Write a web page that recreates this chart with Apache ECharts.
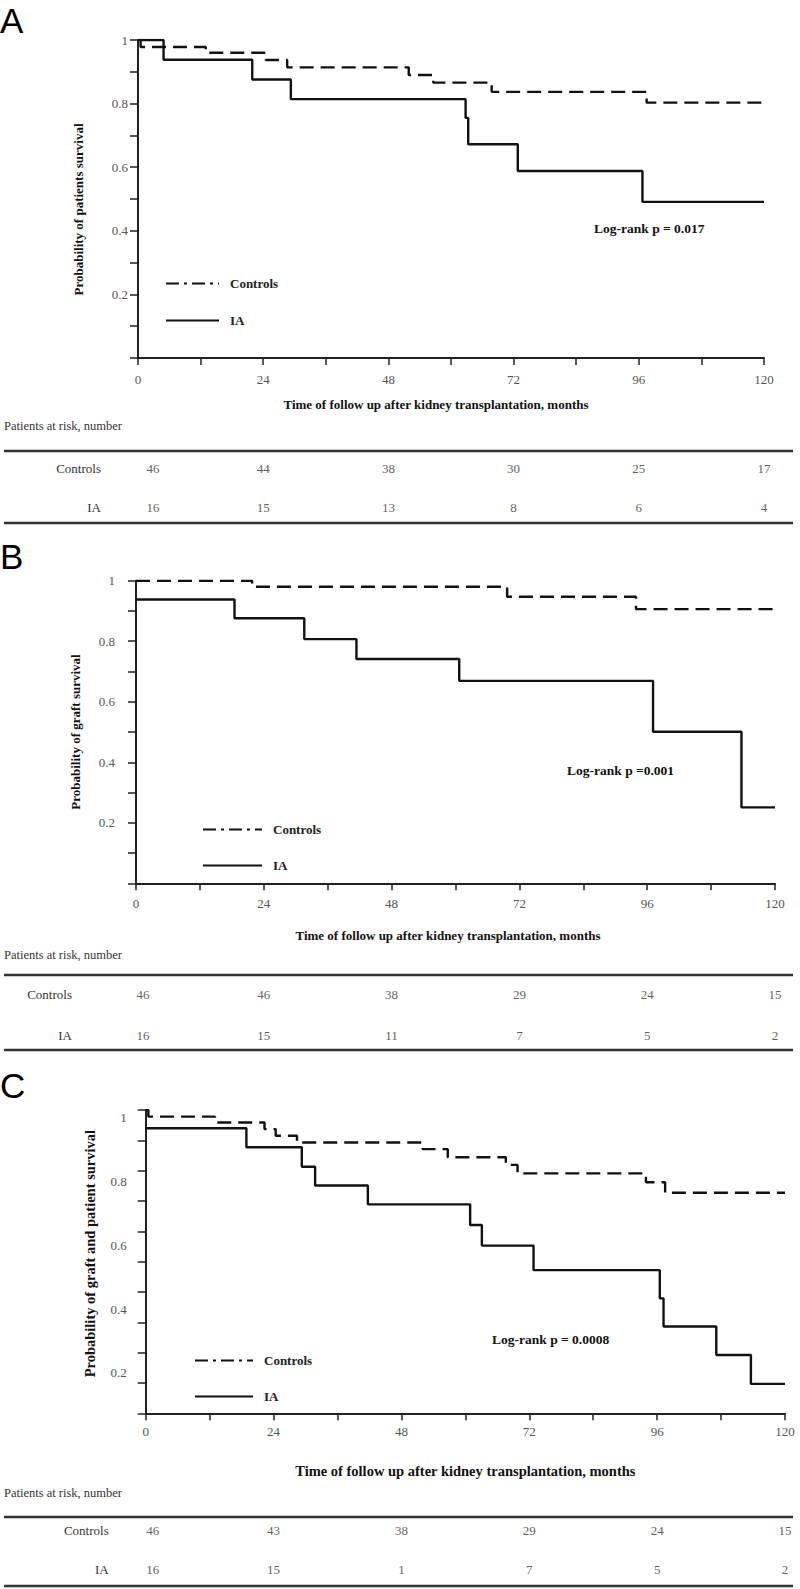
<!DOCTYPE html>
<html><head><meta charset="utf-8">
<script src="https://cdn.jsdelivr.net/npm/echarts@6/dist/echarts.min.js"></script>
<style>html,body{margin:0;padding:0;background:#fff}#c{width:800px;height:1589px}</style>
</head><body><div id="c"></div>
<script>
// ===================== DATA =====================
const xTickMonths = [0, 24, 48, 72, 96, 120];
const yLabelValues = [0.2, 0.4, 0.6, 0.8, 1];
const riskRowNames = ['Controls', 'IA'];
const seriesNames = ['Controls', 'IA'];

// Panel A: patient survival
const ctrlA_t = [0, 0.5, 13, 24.5, 28.6, 51.9, 56.6, 67.8, 97.5, 120];
const ctrlA_s = [1, 0.978, 0.960, 0.937, 0.914, 0.890, 0.866, 0.837, 0.803, 0.803];
const iaA_t = [0, 4.9, 21.9, 29.3, 62.8, 63.3, 72.8, 96.7, 120];
const iaA_s = [1, 0.938, 0.876, 0.814, 0.755, 0.672, 0.588, 0.491, 0.491];
const riskA_ctrl = [46, 44, 38, 30, 25, 17];
const riskA_ia = [16, 15, 13, 8, 6, 4];

// Panel B: graft survival
const ctrlB_t = [0, 21.8, 69.7, 93.9, 120];
const ctrlB_s = [1, 0.980, 0.947, 0.906, 0.906];
const iaB_t = [0, 18.5, 31.6, 41.4, 60.7, 97.1, 113.7, 120];
const iaB_s = [0.938, 0.876, 0.807, 0.741, 0.669, 0.501, 0.251, 0.251];
const riskB_ctrl = [46, 46, 38, 29, 24, 15];
const riskB_ia = [16, 15, 11, 7, 5, 2];

// Panel C: graft and patient survival
const ctrlC_t = [0, 0.5, 13, 22.3, 24.4, 28.4, 52, 56.7, 67.6, 69.8, 93.9, 97.5, 120];
const ctrlC_s = [1, 0.978, 0.959, 0.937, 0.915, 0.893, 0.871, 0.844, 0.819, 0.791, 0.762, 0.727, 0.727];
const iaC_t = [0, 18.9, 29.3, 31.8, 41.7, 60.9, 63.1, 72.8, 96.5, 97.2, 107.1, 113.6, 120];
const iaC_s = [0.940, 0.877, 0.813, 0.751, 0.689, 0.621, 0.553, 0.472, 0.379, 0.286, 0.192, 0.097, 0.097];
const riskC_ctrl = [46, 43, 38, 29, 24, 15];
const riskC_ia = [16, 15, 1, 7, 5, 2];

const panelLetters = ['A', 'B', 'C'];
const yAxisNames = ['Probability of patients survival', 'Probability of graft survival', 'Probability of graft and patient survival'];
const xAxisName = 'Time of follow up after kidney transplantation, months';
const logRankTexts = ['Log-rank p = 0.017', 'Log-rank p =0.001', 'Log-rank p = 0.0008'];
const riskTitle = 'Patients at risk, number';

// ===================== LAYOUT =====================
const SERIF = '"Liberation Serif", "Times New Roman", serif';
const SANS = '"Liberation Sans", Arial, sans-serif';
const layout = [
  { letterY: 20, plot: {left: 138, top: 40, width: 626, height: 318}, yNameGap: 53, yNameSize: 13, yNamePad: [0, 21, 0, 0],
    yLabelMargin: 10, xNameGap: 40, xNameSize: 13, xNamePad: [0, 30, 0, 0], xLabelMargin: 15,
    legend: {left: 160, top: 272, itemWidth: 53, itemGap: 24}, logrank: {x: 594, y: 228},
    patientsY: 426, lineTop: 451, lineBottom: 523, table: {top: 448.5, height: 78}, rowLabelMargin: 37, firstOffset: 15 },
  { letterY: 556, plot: {left: 136, top: 580.7, width: 639, height: 302.6}, yNameGap: 54, yNameSize: 13, yNamePad: [0, 0, 0, 0],
    yLabelMargin: 21, xNameGap: 46, xNameSize: 13, xNamePad: [0, 15, 0, 0], xLabelMargin: 14,
    legend: {left: 197, top: 818, itemWidth: 59, itemGap: 23}, logrank: {x: 567, y: 770},
    patientsY: 955, lineTop: 975, lineBottom: 1050, table: {top: 973.5, height: 82}, rowLabelMargin: 64, firstOffset: 7 },
  { letterY: 1085, plot: {left: 145.7, top: 1110, width: 639.3, height: 303.3}, yNameGap: 48, yNameSize: 14.5, yNamePad: [0, 0, 0, 16],
    yLabelMargin: 19, xNameGap: 50, xNameSize: 14.5, xNamePad: [0, 0, 0, 0], xLabelMargin: 12,
    legend: {left: 189, top: 1349, itemWidth: 58, itemGap: 23}, logrank: {x: 492, y: 1339},
    patientsY: 1493, lineTop: 1517, lineBottom: 1586, table: {top: 1510.5, height: 78}, rowLabelMargin: 37, firstOffset: 7,
    // the original's y labels sit lower than their ticks: separate label axis (label "1" at y 1118, "0.2" at 1372.7)
    labelAxis: {min: 0.0726, max: 1.025} }
];

const curves = [
  [[ctrlA_t, ctrlA_s], [iaA_t, iaA_s]],
  [[ctrlB_t, ctrlB_s], [iaB_t, iaB_s]],
  [[ctrlC_t, ctrlC_s], [iaC_t, iaC_s]]
];
const risks = [[riskA_ctrl, riskA_ia], [riskB_ctrl, riskB_ia], [riskC_ctrl, riskC_ia]];

const zip = (t, s) => t.map((v, i) => [v, s[i]]);
const fmtY = v => {
  const r = Math.round(v * 10);
  if (r === 0 || r % 2 !== 0) return '';
  return String(+(v).toFixed(1));
};

const grid = [], xAxis = [], yAxis = [], series = [], legend = [], graphic = [];

layout.forEach((L, p) => {
  const plotGrid = grid.length;
  grid.push({left: L.plot.left, top: L.plot.top, width: L.plot.width, height: L.plot.height, containLabel: false});
  const tableGrid = grid.length;
  grid.push({left: L.plot.left, top: L.table.top, width: L.plot.width, height: L.table.height, containLabel: false});

  const px = xAxis.length;
  xAxis.push({
    gridIndex: plotGrid, type: 'value', min: 0, max: 120, interval: 12,
    name: xAxisName, nameLocation: 'middle', nameGap: L.xNameGap,
    nameTextStyle: {fontFamily: SERIF, fontWeight: 'bold', fontSize: L.xNameSize, color: '#111', padding: L.xNamePad},
    axisLine: {show: true, onZero: false, lineStyle: {color: '#222', width: 2}},
    axisTick: {show: true, length: 7, lineStyle: {color: '#222', width: 1.5}},
    axisLabel: {margin: L.xLabelMargin, fontFamily: SERIF, fontSize: 13, color: '#555',
      formatter: v => (xTickMonths.indexOf(v) >= 0 ? String(v) : '')},
    splitLine: {show: false}
  });
  const tx = xAxis.length;
  xAxis.push({gridIndex: tableGrid, type: 'value', min: 0, max: 120, show: false});

  const py = yAxis.length;
  yAxis.push({
    gridIndex: plotGrid, type: 'value', min: 0, max: 1, interval: 0.1,
    name: yAxisNames[p], nameLocation: 'middle', nameGap: L.yNameGap, nameRotate: 90,
    nameTextStyle: {fontFamily: SERIF, fontWeight: 'bold', fontSize: L.yNameSize, color: '#111', padding: L.yNamePad},
    axisLine: {show: true, onZero: false, lineStyle: {color: '#222', width: 2}},
    axisTick: {show: true, length: 8, lineStyle: {color: '#222', width: 1.5}},
    axisLabel: {show: !L.labelAxis, margin: L.yLabelMargin, fontFamily: SERIF, fontSize: 13, color: '#555', formatter: fmtY},
    splitLine: {show: false}
  });
  if (L.labelAxis) {
    yAxis.push({
      gridIndex: plotGrid, type: 'value', position: 'left', min: L.labelAxis.min, max: L.labelAxis.max,
      axisLine: {show: false}, axisTick: {show: false}, splitLine: {show: false},
      axisLabel: {show: true, customValues: yLabelValues, margin: L.yLabelMargin, fontFamily: SERIF, fontSize: 13, color: '#555',
        formatter: v => String(+(+v).toFixed(1))}
    });
  }
  const ty = yAxis.length;
  yAxis.push({
    gridIndex: tableGrid, type: 'category', data: riskRowNames.slice().reverse(),
    axisLine: {show: false}, axisTick: {show: false}, splitLine: {show: false},
    axisLabel: {margin: L.rowLabelMargin, fontFamily: SERIF, fontSize: 13, color: '#333'}
  });

  // survival curves
  curves[p].forEach((c, k) => {
    series.push({
      type: 'line', name: seriesNames[k], xAxisIndex: px, yAxisIndex: py,
      data: zip(c[0], c[1]), step: 'end', symbol: 'none', silent: true, z: 3 + k,
      itemStyle: {color: '#111'},
      lineStyle: {color: '#111', width: 2.4, type: k === 0 ? [14, 7] : 'solid'}
    });
  });

  // risk table
  const tableData = [];
  risks[p].forEach((row, r) => {
    row.forEach((n, i) => {
      const item = {value: [xTickMonths[i], riskRowNames[r], n]};
      if (i === 0) item.label = {offset: [L.firstOffset, 0]};
      tableData.push(item);
    });
  });
  series.push({
    type: 'scatter', xAxisIndex: tx, yAxisIndex: ty, data: tableData, symbolSize: 1, silent: true,
    itemStyle: {color: 'rgba(0,0,0,0)'},
    label: {show: true, position: 'inside', formatter: q => String(q.value[2]),
      fontFamily: SERIF, fontSize: 13, color: '#333'}
  });

  legend.push({
    left: L.legend.left, top: L.legend.top, orient: 'vertical', itemWidth: L.legend.itemWidth, itemHeight: 14,
    itemGap: L.legend.itemGap, selectedMode: false,
    itemStyle: {opacity: 0, borderWidth: 0},
    data: [
      {name: 'Controls', lineStyle: {type: [13, 5, 3, 5], width: 2}, itemStyle: {opacity: 0, borderWidth: 0}},
      {name: 'IA', lineStyle: {width: 2}, itemStyle: {opacity: 0, borderWidth: 0}}
    ],
    textStyle: {fontFamily: SERIF, fontWeight: 'bold', fontSize: 13, color: '#222', padding: [0, 0, 0, 6]}
  });

  graphic.push(
    {type: 'text', x: 0, y: L.letterY, style: {text: panelLetters[p], font: '35px ' + SANS, fill: '#000', verticalAlign: 'middle'}},
    {type: 'text', x: L.logrank.x, y: L.logrank.y, style: {text: logRankTexts[p], font: 'bold 13.5px ' + SERIF, fill: '#111', verticalAlign: 'middle'}},
    {type: 'text', x: 4, y: L.patientsY, style: {text: riskTitle, font: '12.5px ' + SERIF, fill: '#333', verticalAlign: 'middle'}},
    {type: 'line', shape: {x1: 4, y1: L.lineTop, x2: 793, y2: L.lineTop}, style: {stroke: '#333', lineWidth: 2.5}},
    {type: 'line', shape: {x1: 4, y1: L.lineBottom, x2: 793, y2: L.lineBottom}, style: {stroke: '#333', lineWidth: 2.5}}
  );
});

const chart = echarts.init(document.getElementById('c'), null, {renderer: 'svg', width: 800, height: 1589});
chart.setOption({
  animation: false,
  backgroundColor: '#fff',
  grid, xAxis, yAxis, series, legend, graphic
});
</script>
</body></html>
